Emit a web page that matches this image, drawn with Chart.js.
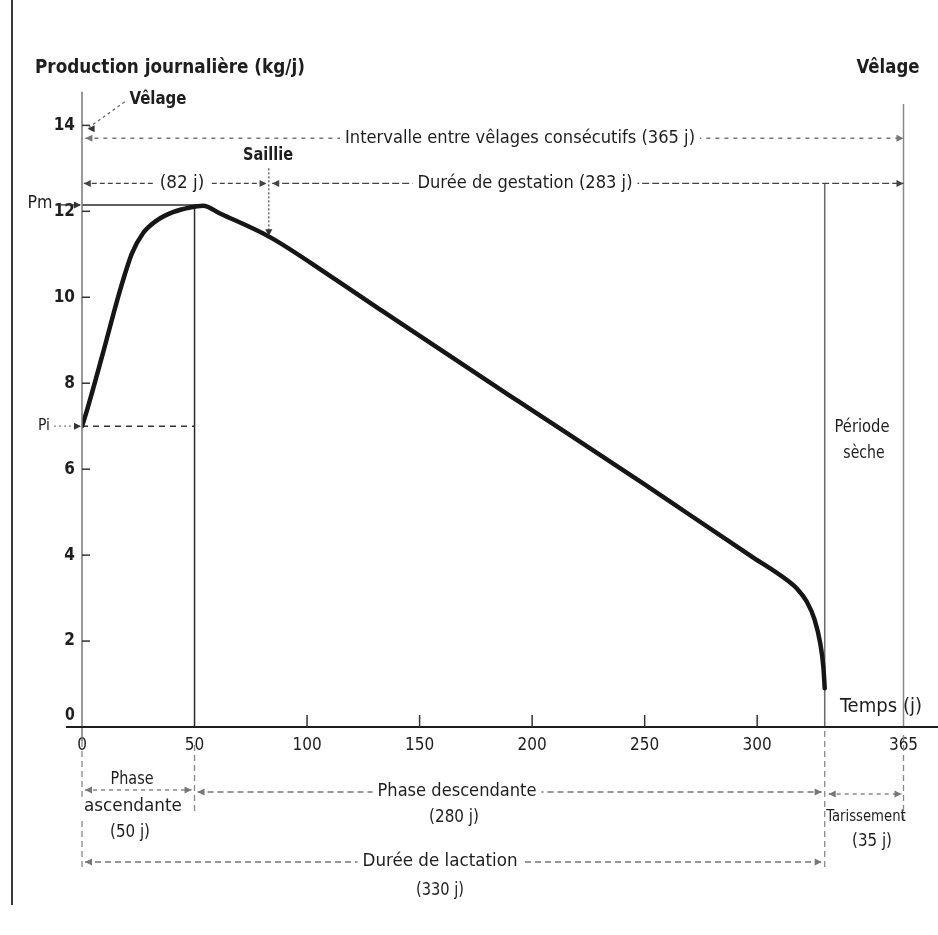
<!DOCTYPE html>
<html>
<head>
<meta charset="utf-8">
<script src="https://cdn.jsdelivr.net/npm/chart.js@4/dist/chart.umd.min.js"></script>
<style>
  body { margin: 0; background: #fff; }
  #wrap { position: relative; width: 938px; height: 935px; }
  #edge { position: absolute; left: 11px; top: 0; width: 2px; height: 905px; background: #3a3a3a; }
  canvas { position: absolute; left: 0; top: 0; }
</style>
</head>
<body>
<div id="wrap"><div id="edge"></div><canvas id="c" width="938" height="935"></canvas></div>
<script>
// courbe de lactation (jours / kg par jour)
const days = [0, 2.2, 9.3, 16.9, 22.2, 27.1, 33.3, 40.4, 48, 53.8, 61.3, 83.5, 110.2, 133.7, 193.3, 249.3, 268.8, 298.1, 313.2, 318, 322, 325.5, 328, 329.4, 330];
const milk = [7.0, 7.37, 8.7, 10.16, 11.02, 11.49, 11.79, 11.98, 12.09, 12.13, 11.95, 11.4, 10.5, 9.67, 7.6, 5.67, 4.98, 3.95, 3.42, 3.2, 2.92, 2.5, 1.95, 1.4, 0.9];

const xTicks = [0, 50, 100, 150, 200, 250, 300, 365];
const yTicks = [0, 2, 4, 6, 8, 10, 12, 14];

const Pi = 7;
const Pm = 12.15;
const peakDay = 50;
const saillieDay = 82;
const lactationEnd = 330;
const cycleEnd = 365;

const FONT = "'Liberation Sans Narrow', 'DejaVu Sans Condensed', 'Open Sans', sans-serif";
const INK = '#1e1e1e';
const GREY = '#6a6a6a';

const seg = (x1, y1, x2, y2) => [{ x: x1, y: y1 }, { x: x2, y: y2 }];
const thin = (data, extra) => Object.assign({
  data, borderColor: GREY, borderWidth: 1.5, pointRadius: 0, fill: false, order: 2
}, extra || {});

const annotate = {
  id: 'annotate',
  afterDraw(chart) {
    const { ctx, scales: { x, y } } = chart;
    const X = v => x.getPixelForValue(v);
    const Y = v => y.getPixelForValue(v);

    const line = (x1, y1, x2, y2, o = {}) => {
      ctx.save();
      ctx.strokeStyle = o.color || GREY;
      ctx.lineWidth = o.width || 1.3;
      ctx.setLineDash(o.dash || []);
      ctx.beginPath();
      ctx.moveTo(x1, y1);
      ctx.lineTo(x2, y2);
      ctx.stroke();
      ctx.restore();
    };
    const head = (px, py, dir, c) => {
      const s = 7, w = 3.5;
      ctx.save();
      ctx.fillStyle = c || '#333';
      ctx.beginPath();
      ctx.moveTo(px, py);
      if (dir === 'r') { ctx.lineTo(px - s, py - w); ctx.lineTo(px - s, py + w); }
      if (dir === 'l') { ctx.lineTo(px + s, py - w); ctx.lineTo(px + s, py + w); }
      if (dir === 'd') { ctx.lineTo(px - w, py - s); ctx.lineTo(px + w, py - s); }
      ctx.closePath();
      ctx.fill();
      ctx.restore();
    };
    const arrow = (x1, x2, py, dash, c) => {
      line(x1, py, x2, py, { dash, color: c });
      head(x1, py, 'l', c);
      head(x2, py, 'r', c);
    };
    // texte centré en (cx, cy), légèrement étiré vers la largeur w de la figure
    const text = (t, cx, cy, w, o = {}) => {
      ctx.save();
      const size = o.size || 17;
      ctx.font = (o.weight || 'normal') + ' ' + size + 'px ' + FONT;
      ctx.textAlign = 'center';
      ctx.textBaseline = 'middle';
      const nat = ctx.measureText(t).width;
      const k = Math.max(0.92, Math.min(1.1, w / nat));
      if (o.bg) {
        ctx.fillStyle = '#fff';
        ctx.fillRect(cx - nat * k / 2 - 5, cy - size * 0.6, nat * k + 10, size * 1.2);
      }
      ctx.translate(cx, cy);
      ctx.scale(k, 1);
      ctx.fillStyle = o.color || INK;
      ctx.fillText(t, 0, 0);
      ctx.restore();
    };

    const x0 = X(0), yb = Y(0);

    // axes
    line(x0, Y(14.78), x0, yb + 14, { color: '#777', width: 1.5 });
    line(66, yb, 938, yb, { color: INK, width: 2.2 });
    xTicks.slice(2, 7).forEach(v => line(X(v), yb, X(v), yb - 12, { color: '#333', width: 1.5 }));
    yTicks.slice(1).forEach(v => line(x0, Y(v), x0 + 8, Y(v), { color: '#333', width: 1.5 }));
    text('0', 70, yb - 11, 9, { weight: 'bold' });

    // titres
    text('Production journalière (kg/j)', 170, 68, 270, { weight: 'bold', size: 20 });
    text('Vêlage', 888, 68, 60, { weight: 'bold', size: 20 });
    text('Temps (j)', 881, 707, 82, { size: 20 });

    // Pm et Pi
    text('Pm', 40, Y(Pm) - 1, 25);
    line(56, Y(Pm), x0 - 2, Y(Pm), { color: '#333' });
    head(x0 - 1, Y(Pm), 'r');
    text('Pi', 44, Y(Pi), 12, { size: 16 });
    line(54, Y(Pi), x0 - 2, Y(Pi), { color: '#888', dash: [2, 3] });
    head(x0 - 1, Y(Pi), 'r');

    // vêlage en haut à gauche
    text('Vêlage', 158, Y(14.6), 57, { weight: 'bold' });
    line(X(19), Y(14.55), X(3), Y(13.95), { dash: [3, 3] });
    head(X(2.5), Y(13.92), 'l');

    // intervalle entre vêlages
    arrow(X(1.5), X(cycleEnd), Y(13.7), [4, 5], '#777');
    text('Intervalle entre vêlages consécutifs (365 j)', 520, Y(13.7), 350, { bg: true, size: 18 });

    // gestation
    arrow(X(0.8), X(saillieDay), Y(12.65), [5, 3], '#444');
    text('(82 j)', 182, Y(12.65), 45, { bg: true });
    arrow(X(saillieDay + 2.5), X(cycleEnd), Y(12.65), [7, 3], '#444');
    text('Durée de gestation (283 j)', 525, Y(12.65), 215, { bg: true, size: 18 });

    // saillie
    text('Saillie', 268, 156, 50, { weight: 'bold' });
    line(X(saillieDay + 1), Y(13.0), X(saillieDay + 1), Y(11.55), { dash: [2, 2], color: '#555' });
    head(X(saillieDay + 1), Y(11.42), 'd');

    // période sèche
    text('Période', 862, Y(6.97), 55);
    text('sèche', 864, Y(6.37), 40);

    // sous l'axe
    line(x0, yb + 14, x0, 870, { dash: [6, 4], color: '#888' });
    line(X(peakDay), yb + 18, X(peakDay), 815, { dash: [6, 4], color: '#888' });
    line(X(lactationEnd), yb + 4, X(lactationEnd), 870, { dash: [6, 4], color: '#888' });
    line(X(cycleEnd), yb + 8, X(cycleEnd), 822, { dash: [6, 4], color: '#888' });

    arrow(x0 + 3, X(peakDay) - 3, 790, [4, 4], '#777');
    text('Phase', 132, 780, 43);
    text('ascendante', 133, 807, 98, { bg: true });
    text('(50 j)', 130, 833, 40);

    arrow(X(peakDay) + 3, X(lactationEnd) - 3, 792, [6, 4], '#777');
    text('Phase descendante', 457, 792, 159, { bg: true });
    text('(280 j)', 454, 818, 50);

    arrow(X(lactationEnd) + 4, X(cycleEnd) - 2, 794, [4, 4], '#777');
    text('Tarissement', 866, 817, 79, { size: 16 });
    text('(35 j)', 872, 842, 40);

    arrow(x0 + 3, X(lactationEnd) - 3, 862, [6, 4], '#777');
    text('Durée de lactation', 440, 862, 155, { bg: true });
    text('(330 j)', 440, 891, 48);
  }
};

new Chart(document.getElementById('c'), {
  type: 'line',
  data: {
    datasets: [
      {
        data: days.map((d, i) => ({ x: d, y: milk[i] })),
        borderColor: '#161616',
        borderWidth: 4.5,
        pointRadius: 0,
        fill: false,
        cubicInterpolationMode: 'monotone',
        borderCapStyle: 'round',
        order: 1
      },
      thin(seg(peakDay, 0, peakDay, Pm), { borderColor: '#2a2a2a' }),
      thin(seg(0, Pm, 53, Pm), { borderColor: '#2a2a2a' }),
      thin(seg(0, Pi, peakDay, Pi), { borderColor: '#333', borderDash: [6, 5] }),
      thin(seg(lactationEnd, 0, lactationEnd, 12.65)),
      thin(seg(cycleEnd, 0, cycleEnd, 14.5), { borderColor: '#8a8a8a' })
    ]
  },
  options: {
    responsive: false,
    animation: false,
    layout: { padding: { top: 91, right: 3, bottom: 0, left: 0 } },
    plugins: { legend: { display: false }, tooltip: { enabled: false } },
    scales: {
      x: {
        type: 'linear',
        min: 0,
        max: 379,
        afterBuildTicks: s => { s.ticks = xTicks.map(v => ({ value: v })); },
        afterFit: s => { s.height = 208; },
        grid: { display: false, drawTicks: false },
        border: { display: false },
        ticks: { padding: 8, color: INK, font: { family: FONT, size: 17 }, maxRotation: 0, autoSkip: false }
      },
      y: {
        min: 0,
        max: 14.8,
        afterBuildTicks: s => { s.ticks = yTicks.map(v => ({ value: v })); },
        afterFit: s => { s.width = 82; },
        grid: { display: false, drawTicks: false },
        border: { display: false },
        ticks: {
          padding: 7, color: INK, font: { family: FONT, size: 17, weight: 'bold' },
          callback: v => (v === 0 ? '' : v)
        }
      }
    }
  },
  plugins: [annotate]
});
</script>
</body>
</html>
